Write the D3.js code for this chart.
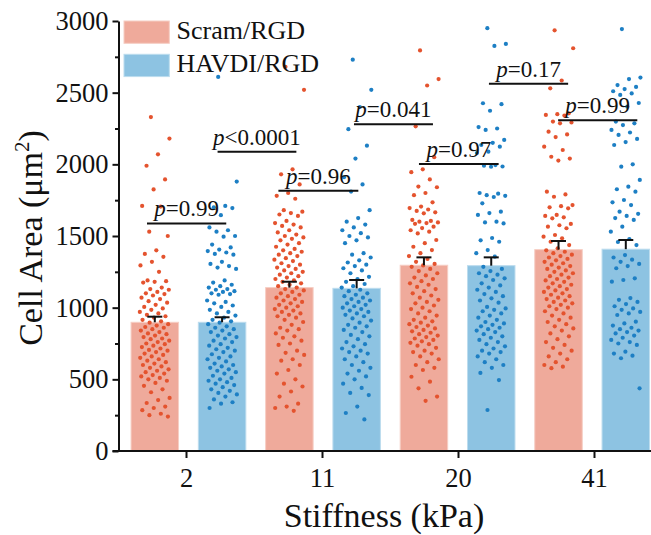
<!DOCTYPE html>
<html>
<head>
<meta charset="utf-8">
<script src="https://cdn.jsdelivr.net/npm/d3@7"></script>
<style>
  html, body { margin: 0; padding: 0; background: #fff; }
  svg { display: block; }
</style>
</head>
<body>
<svg id="chart" width="651" height="535"></svg>
<script>
// ---------------- data ----------------
const stiffness = ["2", "11", "20", "41"];
const seriesNames = ["Scram/RGD", "HAVDI/RGD"];
const scramMean = [898, 1140, 1296, 1405];
const havdiMean = [898, 1135, 1293, 1408];
const scramErr = [39, 41, 55, 60];
const havdiErr = [35, 58, 58, 64];
const yTicks = [0, 500, 1000, 1500, 2000, 2500, 3000];
const yMinorTicks = [250, 750, 1250, 1750, 2250, 2750];

const scram2 = [2330, 2180, 2070, 1990, 1895, 1825, 1710, 1705, 1530, 1500, 1400, 1375, 1355, 1320, 1295, 1250, 1190, 1185, 1180, 1175, 1140, 1130, 1125, 1110, 1100, 1095, 1085, 1070, 1060, 1045, 1035, 1020, 1005, 995, 985, 970, 960, 950, 940, 930, 915, 905, 895, 885, 875, 865, 860, 850, 840, 830, 820, 815, 805, 795, 785, 780, 770, 760, 750, 745, 735, 725, 715, 705, 700, 690, 680, 670, 660, 650, 640, 630, 620, 610, 600, 590, 580, 570, 560, 550, 540, 530, 520, 510, 500, 490, 475, 455, 430, 410, 370, 355, 335, 310, 300, 285, 260, 250, 240];
const havdi2 = [2610, 1880, 1710, 1700, 1695, 1645, 1560, 1540, 1530, 1500, 1495, 1440, 1420, 1405, 1395, 1385, 1375, 1370, 1320, 1305, 1290, 1280, 1270, 1190, 1175, 1160, 1150, 1140, 1130, 1125, 1115, 1110, 1100, 1095, 1090, 1050, 1040, 1030, 1015, 1005, 985, 970, 960, 945, 930, 915, 905, 895, 885, 870, 860, 850, 840, 830, 815, 805, 795, 785, 770, 760, 745, 735, 720, 710, 700, 690, 675, 660, 650, 640, 625, 610, 600, 590, 580, 570, 560, 550, 540, 525, 510, 500, 490, 480, 470, 460, 445, 430, 420, 405, 395, 380, 360, 340, 330, 300];
const scram11 = [2680, 2520, 1965, 1930, 1860, 1800, 1780, 1760, 1680, 1670, 1660, 1650, 1640, 1605, 1590, 1580, 1570, 1560, 1540, 1525, 1510, 1500, 1490, 1480, 1470, 1450, 1440, 1425, 1410, 1400, 1390, 1380, 1370, 1360, 1345, 1335, 1325, 1310, 1300, 1290, 1280, 1270, 1260, 1250, 1240, 1230, 1220, 1210, 1200, 1190, 1180, 1170, 1160, 1150, 1140, 1130, 1120, 1110, 1100, 1090, 1080, 1070, 1060, 1050, 1040, 1030, 1020, 1010, 1000, 990, 980, 970, 960, 950, 940, 930, 915, 900, 880, 860, 850, 840, 820, 800, 790, 770, 750, 740, 700, 685, 670, 640, 630, 600, 565, 540, 500, 470, 450, 415, 380, 330, 310, 300, 280];
const havdi11 = [2730, 2520, 2400, 2245, 2130, 2040, 1910, 1860, 1810, 1680, 1625, 1600, 1580, 1560, 1540, 1520, 1500, 1490, 1470, 1450, 1380, 1370, 1350, 1330, 1315, 1300, 1290, 1275, 1260, 1240, 1215, 1200, 1180, 1165, 1150, 1140, 1125, 1115, 1100, 1090, 1080, 1070, 1060, 1050, 1040, 1030, 1020, 1010, 1000, 990, 980, 970, 960, 950, 940, 925, 910, 895, 880, 870, 860, 845, 830, 810, 800, 780, 760, 745, 730, 715, 700, 690, 680, 660, 640, 620, 600, 580, 560, 540, 520, 500, 470, 440, 405, 390, 310, 265, 220];
const scram20 = [2795, 2595, 2550, 2265, 2050, 1965, 1945, 1895, 1845, 1840, 1800, 1785, 1735, 1705, 1695, 1685, 1675, 1665, 1658, 1612, 1605, 1600, 1595, 1590, 1585, 1565, 1555, 1540, 1530, 1518, 1472, 1450, 1425, 1402, 1380, 1360, 1340, 1320, 1305, 1295, 1285, 1270, 1255, 1240, 1225, 1210, 1200, 1185, 1170, 1160, 1145, 1130, 1115, 1100, 1085, 1070, 1055, 1040, 1030, 1015, 1000, 990, 975, 960, 945, 930, 915, 905, 895, 885, 875, 865, 855, 845, 835, 825, 815, 805, 795, 785, 775, 765, 755, 745, 735, 720, 700, 690, 680, 660, 640, 620, 600, 580, 565, 518, 484, 437, 380, 350];
const havdi20 = [2950, 2840, 2826, 2426, 2420, 2374, 2260, 2250, 2240, 2170, 2150, 2135, 2123, 2088, 2079, 1995, 1990, 1985, 1983, 1800, 1795, 1785, 1780, 1772, 1728, 1670, 1660, 1647, 1600, 1595, 1588, 1486, 1470, 1460, 1402, 1380, 1356, 1285, 1270, 1255, 1240, 1230, 1220, 1205, 1193, 1170, 1155, 1140, 1125, 1110, 1095, 1080, 1065, 1050, 1035, 1005, 995, 985, 975, 960, 945, 930, 915, 900, 890, 880, 870, 860, 850, 840, 830, 815, 800, 790, 775, 760, 745, 730, 715, 700, 690, 680, 660, 640, 620, 600, 580, 545, 495, 286];
const scram41 = [2935, 2810, 2585, 2530, 2356, 2350, 2345, 2340, 2298, 2292, 2286, 2228, 2209, 2190, 2123, 2100, 2053, 2040, 2026, 1809, 1790, 1774, 1716, 1708, 1700, 1693, 1647, 1640, 1630, 1623, 1584, 1575, 1565, 1554, 1507, 1495, 1484, 1460, 1437, 1414, 1400, 1390, 1380, 1370, 1360, 1350, 1340, 1330, 1320, 1310, 1300, 1290, 1280, 1270, 1260, 1250, 1240, 1230, 1220, 1210, 1200, 1190, 1180, 1170, 1160, 1150, 1140, 1130, 1120, 1110, 1100, 1090, 1080, 1070, 1060, 1050, 1040, 1030, 1020, 1010, 1000, 990, 975, 960, 945, 930, 915, 900, 885, 870, 855, 840, 820, 800, 780, 760, 740, 720, 700, 680, 660, 640, 620, 600, 588, 578];
const havdi41 = [2944, 2605, 2595, 2553, 2540, 2525, 2510, 2495, 2484, 2428, 2402, 2298, 2286, 2274, 2240, 2222, 2205, 2177, 2155, 2135, 2000, 1984, 1891, 1844, 1826, 1809, 1751, 1735, 1716, 1670, 1655, 1640, 1625, 1612, 1565, 1530, 1479, 1458, 1437, 1367, 1350, 1335, 1320, 1305, 1290, 1275, 1205, 1193, 1181, 1067, 1055, 1040, 1025, 1010, 995, 985, 970, 960, 949, 902, 890, 875, 860, 850, 840, 830, 820, 805, 790, 775, 760, 750, 740, 693, 680, 665, 647, 437];

// significance brackets (x in bar-slot units, y in data units)
const bracketStart = [-0.116, 0.933, 1.837, 2.96, 3.926, 4.966, 5.994];
const bracketEnd = [1.062, 2.104, 3.025, 4.134, 5.11, 6.143, 7.171];
const bracketY = [1588, 2088, 1816, 2280, 2002, 2563, 2307];
const bracketSign = ["=", "<", "=", "=", "=", "=", "="];
const bracketP = ["0.99", "0.0001", "0.96", "0.041", "0.97", "0.17", "0.99"];

// ---------------- drawing ----------------
const FONT = "'Liberation Serif', 'Times New Roman', Times, serif";
const scramPts = [scram2, scram11, scram20, scram41];
const havdiPts = [havdi2, havdi11, havdi20, havdi41];
const dotColor = ["#E4532E", "#1D7FC4"];
const barColor = ["#EFAA9B", "#8DC3E2"];
const barEdge = ["#F6CEC4", "#BCDCEE"];

const svg = d3.select("#chart");
const y = d3.scaleLinear().domain([0, 3000]).range([451, 21]);
const xBar = d3.scaleLinear().domain([0, 7]).range([154.8, 625.8]);
const xTick = d3.scaleLinear().domain([0, 3]).range([186, 594]);
const barW = 47.5;

const bars = [];
stiffness.forEach((s, g) => {
  bars.push({ slot: 2 * g, s: 0, mean: scramMean[g], err: scramErr[g], pts: scramPts[g] });
  bars.push({ slot: 2 * g + 1, s: 1, mean: havdiMean[g], err: havdiErr[g], pts: havdiPts[g] });
});

// bars
svg.append("g").selectAll("rect").data(bars).join("rect")
  .attr("x", d => xBar(d.slot) - barW / 2)
  .attr("y", d => y(d.mean))
  .attr("width", barW)
  .attr("height", d => y(0) - y(d.mean))
  .attr("fill", d => barColor[d.s])
  .attr("stroke", d => barEdge[d.s])
  .attr("stroke-width", 1);

// points (deterministic low-discrepancy jitter)
const jit = i => (((i * 0.6180339887 + 0.37) % 1) - 0.5) * 30;
bars.forEach(b => {
  svg.append("g").selectAll("circle").data(b.pts).join("circle")
    .attr("cx", (v, i) => xBar(b.slot) + jit(i))
    .attr("cy", v => y(v))
    .attr("r", 2.1)
    .attr("fill", dotColor[b.s]);
});

// error bars (upper)
const eb = svg.append("g").attr("stroke", "#111").attr("stroke-width", 2);
bars.forEach(b => {
  const cx = xBar(b.slot);
  eb.append("line").attr("x1", cx).attr("x2", cx).attr("y1", y(b.mean)).attr("y2", y(b.mean + b.err));
  eb.append("line").attr("x1", cx - 7.5).attr("x2", cx + 7.5).attr("y1", y(b.mean + b.err)).attr("y2", y(b.mean + b.err));
});

// significance brackets
bracketY.forEach((v, i) => {
  const x1 = xBar(bracketStart[i]), x2 = xBar(bracketEnd[i]);
  svg.append("line").attr("x1", x1).attr("x2", x2).attr("y1", y(v)).attr("y2", y(v))
    .attr("stroke", "#111").attr("stroke-width", 2);
  const t = svg.append("text").attr("x", (x1 + x2) / 2).attr("y", y(v) - 7)
    .attr("text-anchor", "middle").style("font-family", FONT).style("font-size", "23px").attr("fill", "#111");
  t.append("tspan").style("font-style", "italic").text("p");
  t.append("tspan").text(bracketSign[i] + bracketP[i]);
});

// y axis
const yAxis = svg.append("g").attr("transform", "translate(118.5,0)")
  .call(d3.axisLeft(y).tickValues(yTicks).tickFormat(d3.format("d")).tickSize(6).tickSizeOuter(0).tickPadding(4));
yAxis.attr("font-family", null);
yAxis.selectAll("text").style("font-size", "26.5px").style("font-family", FONT).attr("fill", "#111");
yAxis.selectAll("line").attr("stroke", "#111").attr("stroke-width", 2);
yAxis.select(".domain").attr("stroke", "#111").attr("stroke-width", 2);
const yMinor = svg.append("g").attr("transform", "translate(118.5,0)")
  .call(d3.axisLeft(y).tickValues(yMinorTicks).tickSize(3.5).tickFormat(""));
yMinor.select(".domain").remove();
yMinor.selectAll("line").attr("stroke", "#111").attr("stroke-width", 2);

// x axis
svg.append("line").attr("x1", 112.5).attr("x2", 651).attr("y1", y(0)).attr("y2", y(0))
  .attr("stroke", "#111").attr("stroke-width", 2);
const xAxis = svg.append("g").attr("transform", `translate(0,${y(0)})`)
  .call(d3.axisBottom(xTick).tickValues([0, 1, 2, 3]).tickFormat(i => stiffness[i]).tickSize(7).tickPadding(10));
xAxis.attr("font-family", null);
xAxis.select(".domain").remove();
xAxis.selectAll("line").attr("stroke", "#111").attr("stroke-width", 2);
xAxis.selectAll("text").style("font-size", "26.5px").style("font-family", FONT).attr("fill", "#111");

// axis titles
svg.append("text").attr("x", 384).attr("y", 527).attr("text-anchor", "middle")
  .style("font-family", FONT).style("font-size", "34px").attr("fill", "#111").text("Stiffness (kPa)");
const yt = svg.append("text").attr("transform", "translate(42,238) rotate(-90)")
  .attr("text-anchor", "middle").style("font-family", FONT).style("font-size", "34px").attr("fill", "#111");
yt.append("tspan").text("Cell Area (μm");
yt.append("tspan").style("font-size", "21px").attr("dy", -13).text("2");
yt.append("tspan").attr("dy", 13).text(")");

// legend
seriesNames.forEach((n, i) => {
  svg.append("rect").attr("x", 124).attr("y", 21 + i * 33.3).attr("width", 45.3).attr("height", 22.3)
    .attr("fill", barColor[i]).attr("stroke", barEdge[i]).attr("stroke-width", 1);
  svg.append("text").attr("x", 176.5).attr("y", 38.5 + i * 33.8)
    .style("font-family", FONT).style("font-size", "26px").attr("fill", "#111").text(n);
});
</script>
</body>
</html>
